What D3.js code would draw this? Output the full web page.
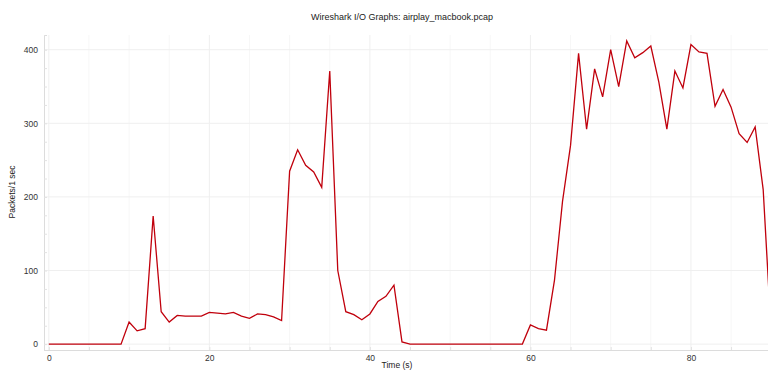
<!DOCTYPE html>
<html>
<head>
<meta charset="utf-8">
<script src="https://cdn.jsdelivr.net/npm/d3@7"></script>
<style>
  html, body { margin: 0; padding: 0; background: #fff; }
  svg { display: block; }
  text { font-family: "Liberation Sans", Arial, Helvetica, sans-serif; }
</style>
</head>
<body>
<svg id="chart" width="768" height="371"></svg>
<script>
const title = "Wireshark I/O Graphs: airplay_macbook.pcap";
const xLabel = "Time (s)";
const yLabel = "Packets/1 sec";
const xTicks = [0, 20, 40, 60, 80];
const yTicks = [0, 100, 200, 300, 400];
const times = d3.range(0, 91);
const packets = [
  0, 0, 0, 0, 0, 0, 0, 0, 0, 0,
  30, 18, 21, 174, 44, 30, 39, 38, 38, 38,
  43, 42, 41, 43, 38, 35, 41, 40, 37, 32,
  235, 264, 243, 234, 213, 371, 100, 44, 40, 33,
  41, 58, 65, 80, 3, 0, 0, 0, 0, 0,
  0, 0, 0, 0, 0, 0, 0, 0, 0, 0,
  26, 21, 19, 87, 194, 270, 395, 292, 374, 336,
  400, 350, 412, 389, 396, 405, 356, 292, 371, 348,
  407, 397, 395, 323, 346, 322, 286, 274, 295, 210,
  15
];

const W = 768, H = 371;
const m = { left: 44, right: 0, top: 35, bottom: 21 };
const svg = d3.select("#chart");

const x = d3.scaleLinear().domain([-0.6, 89.6]).range([m.left, W - m.right]);
const y = d3.scaleLinear().domain([-8, 420]).range([H - m.bottom, m.top]);

// grid
const g = svg.append("g");
g.selectAll("line.vmin").data(d3.range(5, 90, 5).filter(v => v % 20 !== 0)).join("line")
  .attr("x1", d => x(d)).attr("x2", d => x(d))
  .attr("y1", y.range()[1]).attr("y2", y.range()[0])
  .attr("stroke", "#f7f7f7").attr("stroke-width", 1);
g.selectAll("line.vmaj").data(xTicks).join("line")
  .attr("x1", d => x(d)).attr("x2", d => x(d))
  .attr("y1", y.range()[1]).attr("y2", y.range()[0])
  .attr("stroke", "#efefef").attr("stroke-width", 1);
g.selectAll("line.hmaj").data(yTicks).join("line")
  .attr("x1", m.left).attr("x2", W - m.right)
  .attr("y1", d => y(d)).attr("y2", d => y(d))
  .attr("stroke", "#efefef").attr("stroke-width", 1);

// axes
const xAxis = svg.append("g").attr("transform", `translate(0,${H - m.bottom})`)
  .call(d3.axisBottom(x).tickValues(xTicks).tickSize(0).tickPadding(5).tickFormat(d3.format("d")));
const xMinor = svg.append("g").attr("transform", `translate(0,${H - m.bottom})`)
  .call(d3.axisBottom(x).tickValues(d3.range(0, 90, 5)).tickSize(-3).tickFormat(""));
const yAxis = svg.append("g").attr("transform", `translate(${m.left},0)`)
  .call(d3.axisLeft(y).tickValues(yTicks).tickSize(0).tickPadding(6).tickFormat(d3.format("d")));
const yMinor = svg.append("g").attr("transform", `translate(${m.left},0)`)
  .call(d3.axisLeft(y).tickValues(d3.range(0, 420, 25)).tickSize(-3).tickFormat(""));

[xAxis, yAxis, xMinor, yMinor].forEach(a => {
  a.select(".domain").attr("stroke", "#dcdcdc");
  a.selectAll(".tick line").attr("stroke", "#e2e2e2");
  a.selectAll("text").attr("fill", "#333").attr("font-size", "8.5px")
    .style("font-family", '"Liberation Sans", Arial, sans-serif');
});

// line
svg.append("clipPath").attr("id", "clip").append("rect")
  .attr("x", m.left).attr("y", 0).attr("width", W - m.left - m.right).attr("height", H - m.bottom);
const data = times.map((t, i) => [t, packets[i]]);
svg.append("path").datum(data)
  .attr("clip-path", "url(#clip)")
  .attr("fill", "none").attr("stroke", "#c0000c").attr("stroke-width", 1.3)
  .attr("stroke-linejoin", "miter")
  .attr("d", d3.line().x(d => x(d[0])).y(d => y(d[1])));

// labels
svg.append("text").attr("x", 402).attr("y", 20).attr("text-anchor", "middle")
  .attr("font-size", "9px").attr("fill", "#222").text(title);
svg.append("text").attr("x", 397).attr("y", 368).attr("text-anchor", "middle")
  .attr("font-size", "8.5px").attr("fill", "#222").text(xLabel);
svg.append("text").attr("transform", "translate(15,192) rotate(-90)").attr("text-anchor", "middle")
  .attr("font-size", "8.5px").attr("fill", "#222").text(yLabel);
</script>
</body>
</html>
